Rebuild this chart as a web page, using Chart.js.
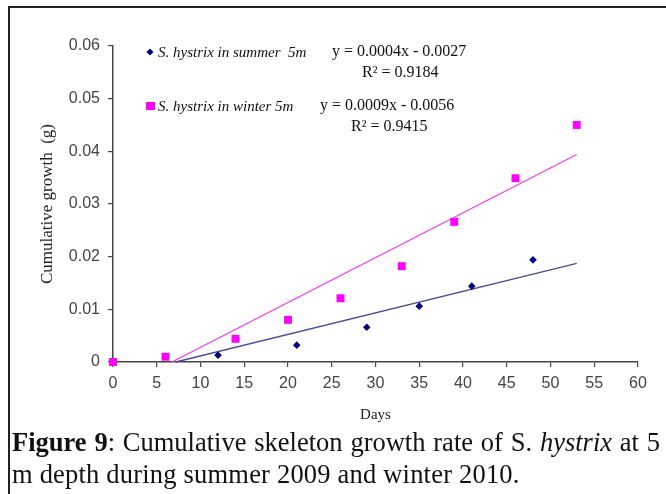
<!DOCTYPE html>
<html>
<head>
<meta charset="utf-8">
<script src="https://cdn.jsdelivr.net/npm/chart.js@4.4.0/dist/chart.umd.min.js"></script>
<style>
  body { margin: 0; background: #fff; width: 666px; height: 494px; overflow: hidden; position: relative; }
  #frame { position: absolute; left: 8px; top: 6px; right: 0; bottom: 0; border-left: 2px solid #222; border-top: 2px solid #222; }
  #wrap { position: absolute; left: 0; top: 0; width: 666px; height: 430px; }
  #caption { position: absolute; left: 12px; top: 426px; width: 648px; font-family: 'Liberation Serif', serif;
             font-size: 26.5px; line-height: 32px; color: #111; }
  #caption .first { text-align: justify; text-align-last: justify; white-space: nowrap; }
  #caption .second { letter-spacing: 0.2px; }
</style>
</head>
<body>
<div id="frame"></div>
<div id="wrap"><canvas id="growth_chart"></canvas></div>
<div id="caption">
  <div class="first"><b>Figure 9</b>: Cumulative skeleton growth rate of S. <i>hystrix</i> at 5</div>
  <div class="second">m depth during summer 2009 and winter 2010.</div>
</div>
<script>
const summerDays = [0, 12, 21, 29, 35, 41, 48];
const summerGrowth = [0, 0.0013, 0.0032, 0.0066, 0.0106, 0.0144, 0.0194];
const winterDays = [0, 6, 14, 20, 26, 33, 39, 46, 53];
const winterGrowth = [0, 0.001, 0.0044, 0.008, 0.0121, 0.0182, 0.0266, 0.0349, 0.045];

const seriesNames = ['S. hystrix in summer  5m', 'S. hystrix in winter 5m'];
const equations = ['y = 0.0004x - 0.0027', 'y = 0.0009x - 0.0056'];
const rSquared = ['R\u00b2 = 0.9184', 'R\u00b2 = 0.9415'];

const summerColor = '#000080';
const winterColor = '#ff00ff';

// least squares line, cut off where it drops below zero
function trend(xs, ys, xEnd) {
    const n = xs.length;
    const mx = xs.reduce((a, b) => a + b, 0) / n;
    const my = ys.reduce((a, b) => a + b, 0) / n;
    let sxy = 0, sxx = 0;
    for (let i = 0; i < n; i++) {
        sxy += (xs[i] - mx) * (ys[i] - my);
        sxx += (xs[i] - mx) * (xs[i] - mx);
    }
    const m = sxy / sxx;
    const b = my - m * mx;
    const xStart = Math.max(Math.min(...xs), -b / m);
    return [{x: xStart, y: m * xStart + b}, {x: xEnd, y: m * xEnd + b}];
}

const lastDay = Math.max(...summerDays, ...winterDays);
const toPoints = (xs, ys) => xs.map((x, i) => ({x: x, y: ys[i]}));

// legend with the trendline equations, drawn inside the plot
const equationLegend = {
    id: 'equationLegend',
    afterDatasetsDraw(chart) {
        const ctx = chart.ctx;
        ctx.save();
        ctx.fillStyle = summerColor;
        ctx.beginPath();
        ctx.moveTo(150, 48.5); ctx.lineTo(153.5, 52); ctx.lineTo(150, 55.5); ctx.lineTo(146.5, 52);
        ctx.closePath(); ctx.fill();
        ctx.fillStyle = winterColor;
        ctx.fillRect(146, 102, 9, 8);

        ctx.fillStyle = '#111';
        ctx.textBaseline = 'middle';
        ctx.font = 'italic 15px "Liberation Serif"';
        ctx.fillText(seriesNames[0], 158, 53);
        ctx.fillText(seriesNames[1], 158, 107);
        ctx.font = '16px "Liberation Serif"';
        ctx.fillText(equations[0], 332, 52);
        ctx.fillText(rSquared[0], 362, 73);
        ctx.fillText(equations[1], 320, 106);
        ctx.fillText(rSquared[1], 351, 127);
        ctx.restore();
    }
};

const tickFont = {family: 'Liberation Sans', size: 16};
const axisColor = '#444';

new Chart(document.getElementById('growth_chart'), {
    type: 'scatter',
    data: {
        datasets: [{
            label: seriesNames[1],
            data: toPoints(winterDays, winterGrowth),
            pointStyle: 'rect',
            pointRadius: 5.6,
            pointHoverRadius: 5.6,
            backgroundColor: winterColor,
            borderWidth: 0,
            order: 0
        }, {
            label: seriesNames[0],
            data: toPoints(summerDays, summerGrowth),
            pointStyle: 'rectRot',
            pointRadius: 3.8,
            backgroundColor: summerColor,
            borderWidth: 0,
            order: 1
        }, {
            type: 'line',
            data: trend(winterDays, winterGrowth, lastDay),
            borderColor: '#f03cf0',
            borderWidth: 1.3,
            pointRadius: 0,
            order: 2
        }, {
            type: 'line',
            data: trend(summerDays, summerGrowth, lastDay),
            borderColor: '#4b4b9c',
            borderWidth: 1.3,
            pointRadius: 0,
            order: 3
        }]
    },
    options: {
        responsive: true,
        maintainAspectRatio: false,
        animation: false,
        clip: false,
        layout: {padding: {left: 0, right: 28, top: 46, bottom: 0}},
        plugins: {legend: {display: false}, tooltip: {enabled: false}},
        scales: {
            x: {
                type: 'linear',
                min: 0,
                max: 60,
                ticks: {stepSize: 5, font: tickFont, color: '#444', padding: 7},
                grid: {drawOnChartArea: false, tickLength: 5, color: axisColor, lineWidth: 1.2},
                border: {color: axisColor, width: 1.5},
                title: {display: true, text: 'Days', font: {family: 'Liberation Serif', size: 15}, color: '#222', padding: {top: 0, bottom: 6}},
                afterFit: (scale) => { scale.height = 68; }
            },
            y: {
                min: 0,
                max: 0.06,
                ticks: {stepSize: 0.01, font: tickFont, color: '#444', padding: 8},
                grid: {drawOnChartArea: false, tickLength: 5, color: axisColor, lineWidth: 1.2},
                border: {color: axisColor, width: 1.5},
                title: {display: true, text: 'Cumulative growth  (g)', font: {family: 'Liberation Serif', size: 17}, color: '#222', padding: {top: 37, bottom: 0}},
                afterFit: (scale) => { scale.width = 113; }
            }
        }
    },
    plugins: [equationLegend]
});
</script>
</body>
</html>
